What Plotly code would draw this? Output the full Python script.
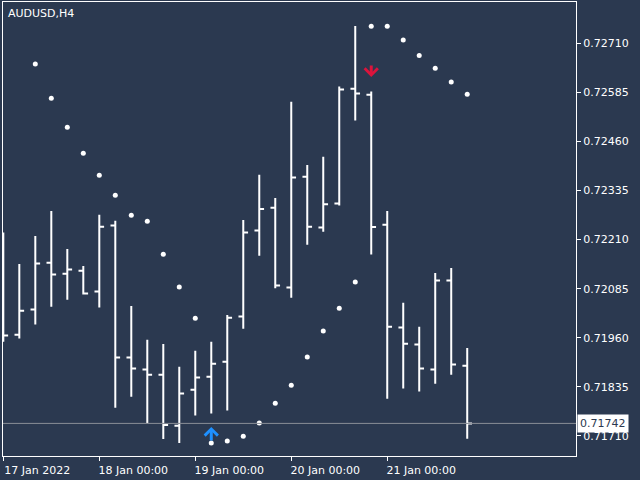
import pandas as pd
import plotly.graph_objects as go

SYMBOL = "AUDUSD,H4"

# H4 bars, 17 Jan 2022 00:00 onwards
bar_times = pd.date_range("2022-01-17 00:00", periods=30, freq="4h")

opens = [0.72010, 0.71968, 0.72032, 0.72151, 0.72123, 0.72131, 0.72078, 0.72246,
         0.71910, 0.71879, 0.71866, 0.71736, 0.71828, 0.71861, 0.71899, 0.72014,
         0.72233, 0.72291, 0.72088, 0.72370, 0.72241, 0.72302, 0.72594, 0.72579,
         0.72248, 0.71986, 0.71943, 0.71879, 0.72106, 0.71889]
highs = [0.72228, 0.72148, 0.72219, 0.72283, 0.72186, 0.72143, 0.72273, 0.72258,
         0.72041, 0.71955, 0.71944, 0.71886, 0.71927, 0.71950, 0.72018, 0.72260,
         0.72375, 0.72316, 0.72561, 0.72400, 0.72421, 0.72600, 0.72754, 0.72587,
         0.72283, 0.72049, 0.71988, 0.72125, 0.72138, 0.71934]
lows = [0.71950, 0.71958, 0.71994, 0.72039, 0.72057, 0.72070, 0.72037, 0.71782,
        0.71810, 0.71743, 0.71702, 0.71692, 0.71762, 0.71767, 0.71775, 0.71983,
        0.72169, 0.72086, 0.72062, 0.72197, 0.72230, 0.72297, 0.72513, 0.72172,
        0.71805, 0.71831, 0.71823, 0.71843, 0.71866, 0.71703]
closes = [0.71966, 0.72029, 0.72149, 0.72121, 0.72134, 0.72073, 0.72243, 0.71910,
          0.71882, 0.71866, 0.71738, 0.71818, 0.71859, 0.71894, 0.72011, 0.72228,
          0.72288, 0.72093, 0.72368, 0.72243, 0.72300, 0.72592, 0.72582, 0.72242,
          0.71988, 0.71945, 0.71882, 0.72106, 0.71892, 0.71742]

# parabolic SAR dots (first two are above the visible range)
sar = [None, None, 0.72657, 0.72570, 0.72496, 0.72430, 0.72374, 0.72323,
       0.72272, 0.72257, 0.72173, 0.72089, 0.72010, 0.71692, 0.71697, 0.71709,
       0.71743, 0.71793, 0.71839, 0.71911, 0.71977, 0.72035, 0.72102, 0.72753,
       0.72753, 0.72718, 0.72679, 0.72646, 0.72611, 0.72580]

last_price = 0.71742
buy_time, buy_price = "2022-01-19 04:00", 0.71733
sell_time, sell_price = "2022-01-20 20:00", 0.72624

y_ticks = [0.71710, 0.71835, 0.71960, 0.72085, 0.72210, 0.72335, 0.72460, 0.72585, 0.72710]
x_tick_times = ["2022-01-17 00:00", "2022-01-18 00:00", "2022-01-19 00:00",
                "2022-01-20 00:00", "2022-01-21 00:00"]
x_tick_labels = ["17 Jan 2022", "18 Jan 00:00", "19 Jan 00:00", "20 Jan 00:00", "21 Jan 00:00"]

BG = "#2b3950"
FG = "#ffffff"
FONT = "DejaVu Sans"

bar = pd.Timedelta(hours=4)
x_start = bar_times[0] - 0.02 * bar
x_end = bar_times[0] + 35.8 * bar

fig = go.Figure()
fig.add_trace(go.Ohlc(
    x=bar_times, open=opens, high=highs, low=lows, close=closes,
    increasing=dict(line=dict(color=FG, width=2)),
    decreasing=dict(line=dict(color=FG, width=2)),
    tickwidth=0.3, showlegend=False,
))
fig.add_trace(go.Scatter(
    x=bar_times, y=sar, mode="markers",
    marker=dict(color=FG, size=5), showlegend=False,
))

# current price line + label
fig.add_shape(type="line", xref="paper", x0=0, x1=1, yref="y", y0=last_price, y1=last_price,
              line=dict(color="#8a8f98", width=1))
fig.add_annotation(xref="paper", x=1, yref="y", y=last_price, text=f"{last_price:.5f}",
                   showarrow=False, xanchor="left", xshift=1, bgcolor=FG,
                   font=dict(family=FONT, size=11, color=BG), borderpad=2)

# signal arrows
fig.add_annotation(x=buy_time, y=buy_price, ax=0, ay=15, text="", showarrow=True,
                   arrowhead=4, arrowwidth=3, arrowsize=0.85, arrowcolor="#1e90ff")
fig.add_annotation(x=sell_time, y=sell_price, ax=0, ay=-13, text="", showarrow=True,
                   arrowhead=4, arrowwidth=3, arrowsize=0.85, arrowcolor="#dc143c")

fig.add_annotation(xref="paper", yref="paper", x=0, y=1, xshift=3, yshift=-3,
                   text=SYMBOL, showarrow=False, xanchor="left", yanchor="top",
                   font=dict(family=FONT, size=11, color=FG))

fig.update_layout(
    width=640, height=480,
    margin=dict(l=3, r=64, t=2, b=24),
    paper_bgcolor=BG, plot_bgcolor=BG,
    font=dict(family=FONT, size=11, color=FG),
    xaxis=dict(
        range=[x_start, x_end], rangeslider=dict(visible=False), automargin=False,
        showgrid=False, zeroline=False, showline=True, linecolor=FG, linewidth=1, mirror=True,
        tickvals=x_tick_times, ticktext=x_tick_labels, ticks="outside", ticklen=4,
        tickcolor=FG, ticklabelshift=34,
    ),
    yaxis=dict(
        range=[0.71659, 0.72815], side="right", automargin=False,
        showgrid=False, zeroline=False, showline=True, linecolor=FG, linewidth=1, mirror=True,
        tickvals=y_ticks, tickformat=".5f", ticks="outside", ticklen=4, tickcolor=FG,
    ),
)

# the page's default body margin would push the chart off the window
fig.write_html("out.html", config={"displayModeBar": False},
               post_script="document.body.style.margin='0px';")
